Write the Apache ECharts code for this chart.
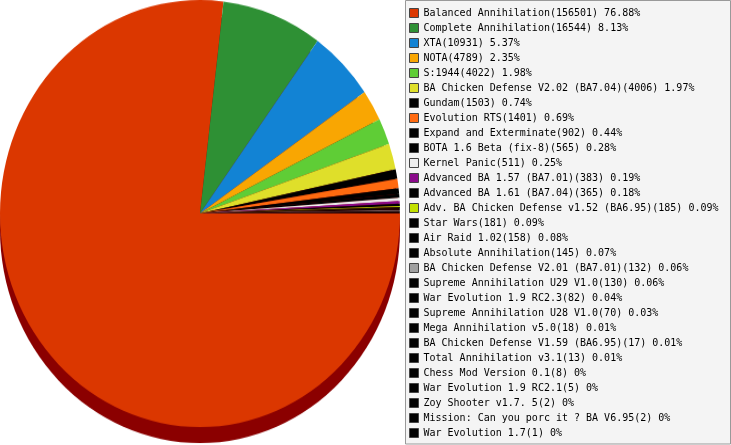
<!DOCTYPE html>
<html>
<head>
<meta charset="utf-8">
<script src="https://cdn.jsdelivr.net/npm/echarts@6/dist/echarts.min.js"></script>
<style>
  html, body { margin: 0; padding: 0; background: #fff; }
  #wrap { position: relative; width: 731px; height: 445px; overflow: hidden; }
  /* the original pie is slightly taller than wide, so the pie canvas is stretched a bit */
  #pie { position: absolute; left: 0; top: 0; width: 400px; height: 416px; transform: scaleY(1.0675); transform-origin: 0 0; }
  #legend { position: absolute; left: 0; top: 0; width: 731px; height: 445px; }
</style>
</head>
<body>
<div id="wrap">
  <div id="legend"></div>
  <div id="pie"></div>
</div>
<script>
const names = [
  'Balanced Annihilation', 'Complete Annihilation', 'XTA', 'NOTA', 'S:1944',
  'BA Chicken Defense V2.02 (BA7.04)', 'Gundam', 'Evolution RTS', 'Expand and Exterminate',
  'BOTA 1.6 Beta (fix-8)', 'Kernel Panic', 'Advanced BA 1.57 (BA7.01)', 'Advanced BA 1.61 (BA7.04)',
  'Adv. BA Chicken Defense v1.52 (BA6.95)', 'Star Wars', 'Air Raid 1.02', 'Absolute Annihilation',
  'BA Chicken Defense V2.01 (BA7.01)', 'Supreme Annihilation U29 V1.0', 'War Evolution 1.9 RC2.3',
  'Supreme Annihilation U28 V1.0', 'Mega Annihilation v5.0', 'BA Chicken Defense V1.59 (BA6.95)',
  'Total Annihilation v3.1', 'Chess Mod Version 0.1', 'War Evolution 1.9 RC2.1', 'Zoy Shooter v1.7. 5',
  'Mission: Can you porc it ? BA V6.95', 'War Evolution 1.7'
]
const values = [
  156501, 16544, 10931, 4789, 4022, 4006, 1503, 1401, 902, 565, 511, 383, 365, 185, 181,
  158, 145, 132, 130, 82, 70, 18, 17, 13, 8, 5, 2, 2, 1
]
const colors = [
  '#db3700', '#2e9034', '#1283d4', '#f9a602', '#5fcd36', '#dfdf2a', '#000000', '#ff6a10',
  '#000000', '#000000', '#eeeeee', '#8b0a8b', '#000000', '#c2e000', '#000000', '#000000',
  '#000000', '#a0a0a0', '#000000', '#000000', '#000000', '#000000', '#000000', '#000000',
  '#000000', '#000000', '#000000', '#000000', '#000000'
]

const fontMono = "'DejaVu Sans Mono', 'Liberation Mono', monospace"
const total = values.reduce((a, b) => a + b, 0)
const pieData = names.map((name, i) => ({ name, value: values[i] }))
const valueOf = {}
names.forEach((n, i) => { valueOf[n] = values[i] })

// 饼图
const pie = echarts.init(document.getElementById('pie'), null, { renderer: 'canvas' })
pie.setOption({
  animation: false,
  color: colors,
  series: [
    {
      // dark rim under the pie
      type: 'pie',
      silent: true,
      center: [200, 215],
      radius: 200,
      z: 1,
      label: { show: false },
      labelLine: { show: false },
      itemStyle: { color: '#8b0000', borderWidth: 0 },
      data: [{ name: 'rim', value: 1 }],
    },
    {
      type: 'pie',
      silent: true,
      center: [200, 200],
      radius: 200,
      startAngle: 0,
      clockwise: true,
      z: 2,
      label: { show: false },
      labelLine: { show: false },
      itemStyle: { borderWidth: 0 },
      emphasis: { disabled: true },
      data: pieData,
    },
  ],
})

// 图例
const legend = echarts.init(document.getElementById('legend'))
legend.setOption({
  animation: false,
  color: colors,
  graphic: [
    {
      type: 'rect',
      z: 0,
      shape: { x: 405.5, y: 0.5, width: 325, height: 443.5 },
      style: { fill: '#f4f4f4', stroke: '#999999', lineWidth: 1 },
    },
  ],
  legend: {
    type: 'plain',
    orient: 'vertical',
    left: 409,
    top: 8,
    height: 437,
    padding: 0,
    itemWidth: 9,
    itemHeight: 9,
    itemGap: 5,
    icon: 'rect',
    selectedMode: false,
    itemStyle: { borderColor: '#444444', borderWidth: 1 },
    textStyle: { fontFamily: fontMono, fontSize: 10, color: '#000', lineHeight: 10 },
    formatter: name => {
      const v = valueOf[name]
      const pct = Math.round(v / total * 10000) / 100
      return name + '(' + v + ') ' + pct + '%'
    },
    data: names,
  },
  series: [
    {
      type: 'pie',
      silent: true,
      center: [-500, -500],
      radius: 1,
      label: { show: false },
      labelLine: { show: false },
      data: pieData,
    },
  ],
})
</script>
</body>
</html>
